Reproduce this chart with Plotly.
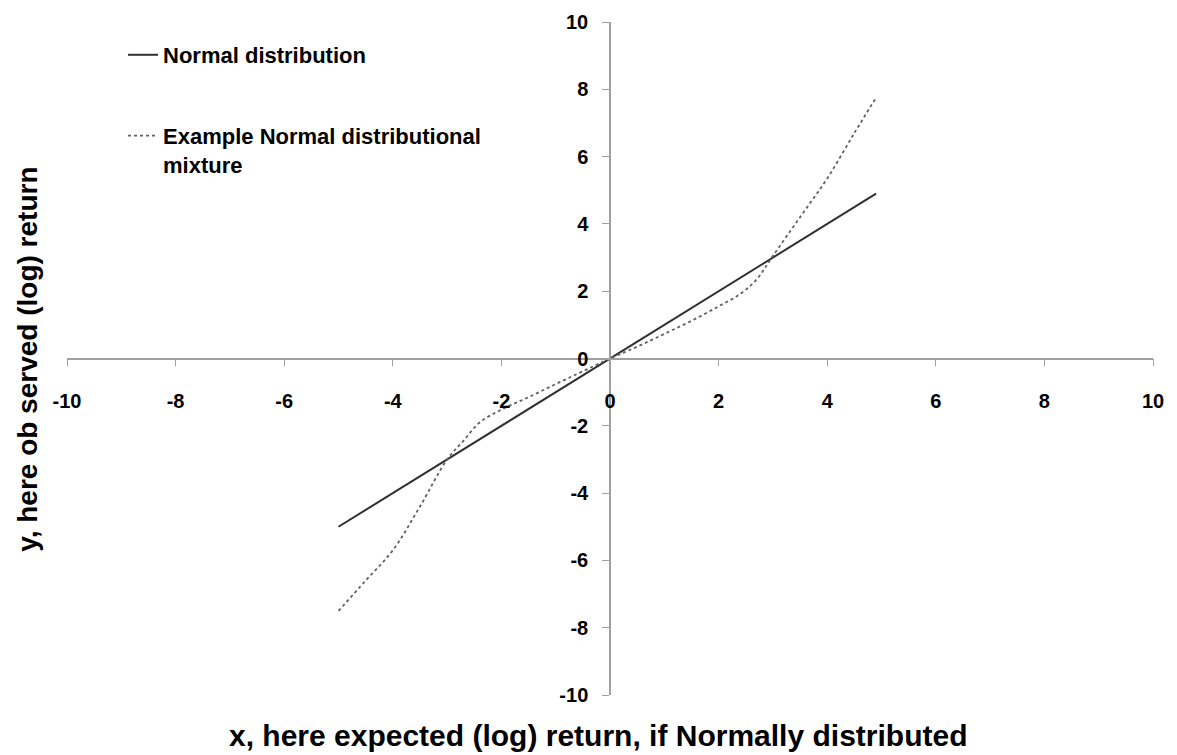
import plotly.graph_objects as go

# Data
normal_x = [-5.0, -2.5, 0.0, 2.5, 4.9]
normal_y = [-5.0, -2.5, 0.0, 2.5, 4.9]

mix_x = [-5.0, -4.5, -4.0, -3.5, -3.0, -2.7, -2.4, -2.0, -1.5, -1.0, -0.5, 0.0,
         0.5, 1.0, 1.5, 2.0, 2.4, 2.7, 3.0, 3.5, 4.0, 4.5, 4.9]
mix_y = [-7.5, -6.6, -5.7, -4.4, -3.0, -2.45, -1.9, -1.52, -1.15, -0.76, -0.38, 0.0,
         0.35, 0.73, 1.12, 1.55, 1.92, 2.35, 3.05, 4.2, 5.35, 6.7, 7.75]

tick_vals = [-10, -8, -6, -4, -2, 0, 2, 4, 6, 8, 10]
tick_text = [str(v) for v in tick_vals]

series_names = ["Normal distribution", "Example Normal distributional<br>mixture"]
x_title = "x, here expected (log) return, if Normally distributed"
y_title = "y, here ob served (log) return"

FONT = "Liberation Sans"

fig = go.Figure()
fig.add_trace(go.Scatter(x=normal_x, y=normal_y, mode="lines", name=series_names[0],
                         line=dict(color="#303030", width=2), legend="legend",
                         showlegend=True))
fig.add_trace(go.Scatter(x=mix_x, y=mix_y, mode="lines", name=series_names[1],
                         line=dict(color="#606060", width=1.8, dash="dot", shape="spline"),
                         legend="legend2", showlegend=True))

axis_common = dict(
    range=[-10, 10], tickvals=tick_vals, ticktext=tick_text,
    showgrid=False, zeroline=False, showline=True, linecolor="#a0a0a0", linewidth=1.5,
    ticks="outside", ticklen=7, tickcolor="#a0a0a0", tickwidth=1.2,
    tickfont=dict(family=FONT, size=20, color="black", weight="bold"),
    anchor="free", position=0.5, fixedrange=True, automargin=False,
)

legend_font = dict(family=FONT, size=22, color="black", weight="bold")

fig.update_layout(
    width=1177, height=755,
    margin=dict(l=67, r=24, t=22, b=60),
    plot_bgcolor="white", paper_bgcolor="white",
    showlegend=True,
    xaxis=dict(**axis_common, ticklabelstandoff=18),
    yaxis=dict(**axis_common, ticklabelstandoff=10),
    legend=dict(x=0.0516, y=0.951, xanchor="left", yanchor="middle",
                font=legend_font, bgcolor="rgba(0,0,0,0)"),
    legend2=dict(x=0.0516, y=0.862, xanchor="left", yanchor="top", valign="top",
                 font=legend_font, bgcolor="rgba(0,0,0,0)"),
    annotations=[
        dict(text=x_title, xref="paper", yref="paper", x=0.489, y=0.0,
             yshift=-40, xanchor="center", yanchor="middle", showarrow=False,
             font=dict(family=FONT, size=30, color="black", weight="bold")),
        dict(text=y_title, xref="paper", yref="paper", x=0, xshift=-39, y=0.498,
             xanchor="center", yanchor="middle", textangle=-90, showarrow=False,
             font=dict(family=FONT, size=28, color="black", weight="bold")),
    ],
)

fig.write_html("out.html",
               config={"displayModeBar": False},
               post_script="document.body.style.margin='0';document.body.style.overflow='hidden';")
